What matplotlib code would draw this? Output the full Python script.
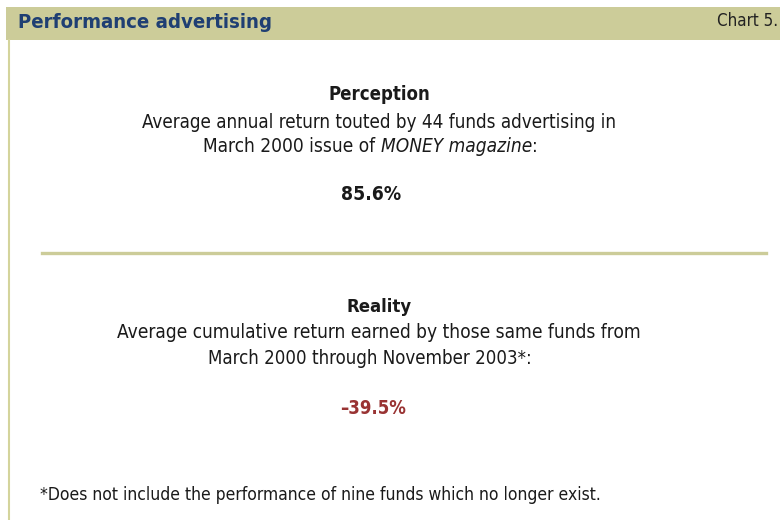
import matplotlib.pyplot as plt
from matplotlib.font_manager import FontProperties, findfont
from matplotlib.patches import Rectangle
from matplotlib.lines import Line2D

# data
title = "Performance advertising"
chart_no = "Chart 5."
fund_count = 44
perception_value = 85.6
reality_value = -39.5
missing_funds = "nine"

# a narrow face if there is one
stretch = "normal"
if "Condensed" in findfont(FontProperties(family="DejaVu Sans", stretch="condensed")):
    stretch = "condensed"
plt.rcParams['font.family'] = ['DejaVu Sans']
plt.rcParams['font.stretch'] = stretch

W, H = 780, 520
fig = plt.figure(figsize=(W / 100, H / 100), dpi=100)
fig.patch.set_facecolor("white")
renderer = fig.canvas.get_renderer()


def fx(x):
    return x / W


def fy(y):
    return 1 - y / H


def put(pieces, y, width, cx=None, left=None, size=12, color="#1a1a1a", weight="normal"):
    # pieces: list of (text, style); scaled so the whole line is `width` px wide
    arts = []
    for s, st in pieces:
        t = fig.text(0, fy(y), s, fontsize=size, fontstyle=st, fontweight=weight,
                     fontstretch=stretch, color=color, va="center", ha="left")
        arts.append(t)
    total = sum(a.get_window_extent(renderer).width for a in arts)
    k = width / total
    for a in arts:
        a.set_fontsize(size * k)
    widths = [a.get_window_extent(renderer).width for a in arts]
    x0 = left if left is not None else cx - sum(widths) / 2
    for a, w in zip(arts, widths):
        a.set_x(fx(x0))
        x0 += w
    return arts


khaki = "#cccc99"

# header band and frame
fig.patches.append(Rectangle((fx(6), fy(40)), fx(W), 33 / H, transform=fig.transFigure,
                             facecolor=khaki, edgecolor="none"))
fig.lines.append(Line2D([fx(8.5), fx(8.5)], [fy(40), fy(520)], transform=fig.transFigure,
                        color="#d4d49c", lw=1.5))
# divider
fig.lines.append(Line2D([fx(42), fx(766)], [fy(253), fy(253)], transform=fig.transFigure,
                        color=khaki, lw=2.4))

put([(title, "normal")], 23, 254, left=18, color="#1f3f73", weight="bold")
put([(chart_no, "normal")], 21, 61, left=717, color="#222222")

cx = 379

put([("Perception", "normal")], 95, 102, cx=cx, weight="bold")
put([(f"Average annual return touted by {fund_count} funds advertising in", "normal")], 122, 476, cx=cx)
put([("March 2000 issue of ", "normal"), ("MONEY magazine", "italic"), (":", "normal")], 147, 335, cx=370.5)
put([(f"{perception_value}%", "normal")], 194, 60, cx=371, weight="bold")

put([("Reality", "normal")], 307, 65, cx=cx, weight="bold")
put([("Average cumulative return earned by those same funds from", "normal")], 333, 522, cx=cx)
put([("March 2000 through November 2003*:", "normal")], 358, 324, cx=370)
put([(f"\u2013{abs(reality_value)}%", "normal")], 409, 66, cx=373, weight="bold", color="#993333")

put([(f"*Does not include the performance of {missing_funds} funds which no longer exist.", "normal")],
    495, 558, left=40)

fig.savefig("out.png", dpi=100)
